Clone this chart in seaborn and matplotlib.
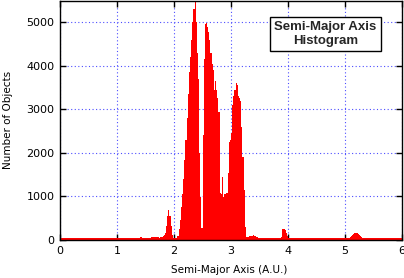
import numpy as np
import pandas as pd
import matplotlib
matplotlib.use("Agg")
import matplotlib.pyplot as plt
import seaborn as sns

# ---- data: asteroid counts per semi-major-axis bin (A.U.) ----
inner_edges = [0.00, 0.78, 0.86, 1.40, 1.44, 1.60, 1.70]
inner_counts = [35, 55, 45, 65, 50, 70]

belt_start = 1.70
belt_bin = 0.02
belt_counts = [
    60, 65, 55, 70, 80, 95, 115, 170, 320, 540,          # 1.70-1.88
    690, 560, 330, 110, 40, 35, 35, 40, 100, 250,        # 1.90-2.08
    450, 760, 1050, 1400, 1830, 2300, 2800, 3350, 3850, 4200,  # 2.10-2.28
    4600, 5000, 5300, 5470, 5000, 4300, 3700, 2000, 990, 270,  # 2.30-2.48
    2400, 4150, 4950, 4980, 4900, 4780, 4600, 4300, 4050, 3900,  # 2.50-2.68
    3450, 3650, 3450, 3250, 2950, 1070, 1060, 1450, 990, 1060,   # 2.70-2.88
    1050, 1080, 1550, 2250, 2300, 2450, 3100, 3300, 3450, 3600,  # 2.90-3.08
    3560, 3300, 3250, 3200, 2600, 1900, 1150, 300, 80, 80,       # 3.10-3.28
    80, 85, 95, 95, 105, 95, 85, 75, 60, 55,                     # 3.30-3.48
    50, 50, 45, 35, 35,                                          # 3.50-3.58
]

outer_edges = [3.60, 3.88, 3.90, 3.92, 3.94, 3.96, 3.98, 4.00, 5.06, 5.08,
               5.10, 5.12, 5.14, 5.16, 5.18, 5.20, 5.22, 5.24, 5.26, 5.28,
               5.30, 5.32, 6.00]
outer_counts = [35, 70, 250, 245, 225, 170, 100, 35, 45, 60,
                95, 115, 135, 150, 160, 155, 130, 105, 90, 60,
                40, 35]

x_ticks = [0, 1, 2, 3, 4, 5, 6]
y_ticks = [0, 1000, 2000, 3000, 4000, 5000]

# ---- assemble bins ----
belt_edges = [round(belt_start + i * belt_bin, 2) for i in range(len(belt_counts))]
edges = inner_edges[:-1] + belt_edges + outer_edges
counts = inner_counts + belt_counts + outer_counts
centers = [(edges[i] + edges[i + 1]) / 2 for i in range(len(counts))]
df = pd.DataFrame({"a": centers, "n": counts})

sns.set_theme(style="white")
plt.rcParams["font.family"] = ["DejaVu Sans"]

fig = plt.figure(figsize=(4.04, 2.78), dpi=100)
ax = fig.add_axes([60 / 404, 1 - 240 / 278, 342 / 404, 239.5 / 278])

sns.histplot(data=df, x="a", weights="n", bins=edges, element="step",
             fill=True, color="#ff0000", alpha=1, linewidth=0, ax=ax)

ax.set_xlim(0, 6)
ax.set_ylim(0, 5500)
ax.set_xticks(x_ticks)
ax.set_yticks(y_ticks)
ax.set_axisbelow(True)
ax.grid(True, color=(0.3, 0.3, 1.0), linestyle=(0, (1, 2.2)), linewidth=0.8)

for s in ax.spines.values():
    s.set_color("black")
    s.set_linewidth(1.0)
    s.set_visible(True)

ax.tick_params(axis="both", which="major", direction="in", length=4.5,
               width=1, color="black", labelsize=8, labelcolor="black",
               top=True, right=True, bottom=True, left=True, pad=4)

ax.set_xlabel("Semi-Major Axis (A.U.)", fontsize=7.5, color="black")
ax.set_ylabel("Number of Objects", fontsize=7.5, color="black")
ax.xaxis.set_label_coords(0.496, -0.105)
ax.yaxis.set_label_coords(-0.138, 0.5)

ax.text(0.776, 0.86, "Semi-Major Axis\nHistogram", transform=ax.transAxes,
        ha="center", va="center", fontsize=9.5, fontweight="bold",
        family=["Liberation Sans", "DejaVu Sans"], linespacing=1.15,
        bbox=dict(facecolor="white", edgecolor="black",
                  boxstyle="square,pad=0.35", linewidth=1))

fig.savefig("out.png", dpi=100)
